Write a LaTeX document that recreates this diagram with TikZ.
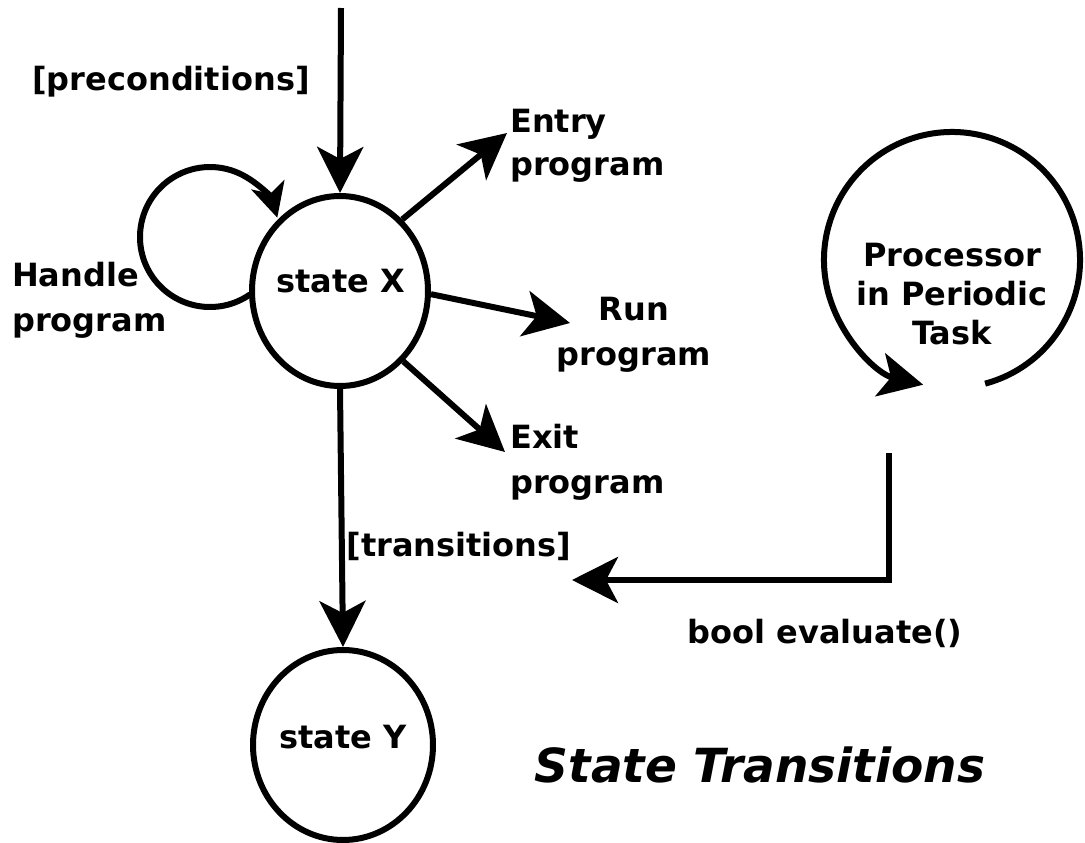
\documentclass[tikz,border=0pt]{standalone}
\usepackage{fontspec}
\setmainfont{DejaVu Sans}
\usetikzlibrary{arrows.meta,shapes.geometric}
\tikzset{
  lbl/.style={inner sep=0pt, font=\fontsize{32}{45}\selectfont\bfseries},
  tightlbl/.style={inner sep=0pt, font=\fontsize{32}{39}\selectfont\bfseries},
  title/.style={inner sep=0pt, font=\fontsize{47}{52}\selectfont\bfseries\itshape},
  stateshape/.style={ellipse, draw, line width=6pt, inner sep=0pt},
  conn/.style={line width=6pt, -{Stealth[length=46pt, width=46pt, inset=12pt]}},
  loopconn/.style={line width=6pt, -{Stealth[length=34pt, width=34pt, inset=9pt]}},
  procconn/.style={line width=6pt, -{Stealth[length=44pt, width=44pt, inset=11pt]}},
}
\begin{document}
\begin{tikzpicture}[x=1pt,y=1pt]
\useasboundingbox (0,0) rectangle (1085,-843);
% states
\node[stateshape, minimum width=176pt, minimum height=190pt] (X) at (340,-291) {};
\node[lbl] (sx) at (341,-281) {state X};
\node[stateshape, minimum width=180pt, minimum height=190pt] (Y) at (343,-745) {};
\node[lbl] (sy) at (343,-737) {state Y};
% incoming
\coordinate (topend) at (341,-8);
\draw[conn] (topend) -- (X.north);
\node[lbl] (pre) at (171,-82) {[preconditions]};
% self loop
\coordinate (loopc) at (210,-237);
\draw[loopconn] (loopc) ++(-55:70) arc[start angle=-55, end angle=-344, radius=70];
\node[lbl, align=left, anchor=west] (handle) at (12,-300) {Handle\\program};
% programs
\coordinate (entryTip) at (507,-133);
\coordinate (runTip) at (570,-323);
\coordinate (exitTip) at (505,-452);
\draw[conn] (X.49) -- (entryTip);
\draw[conn] (X.-2) -- (runTip);
\draw[conn] (X.-48) -- (exitTip);
\node[lbl, align=left, anchor=west, font=\fontsize{32}{43}\selectfont\bfseries] (entry) at (510,-146) {Entry\\program};
\node[lbl, align=center] (run) at (634,-335) {Run\\program};
\node[lbl, align=left, anchor=west] (exit) at (510,-462) {Exit\\program};
% transition
\draw[conn] (X.south) -- (Y.north);
\node[lbl] (trans) at (459,-546) {[transitions]};
% processor
\coordinate (procc) at (952,-260);
\draw[procconn] (procc) ++(-75:128) arc[start angle=-75, end angle=257, radius=128];
\node[tightlbl, align=center] (proc) at (952,-294) {Processor\\in Periodic\\Task};
% evaluate
\coordinate (bTop) at (889,-453);
\coordinate (bTip) at (572,-580);
\draw[conn] (bTop) |- (bTip);
\node[lbl] (bool) at (825,-633) {bool evaluate()};
% title
\node[title] (ttl) at (760,-765) {State Transitions};
\end{tikzpicture}
\end{document}
